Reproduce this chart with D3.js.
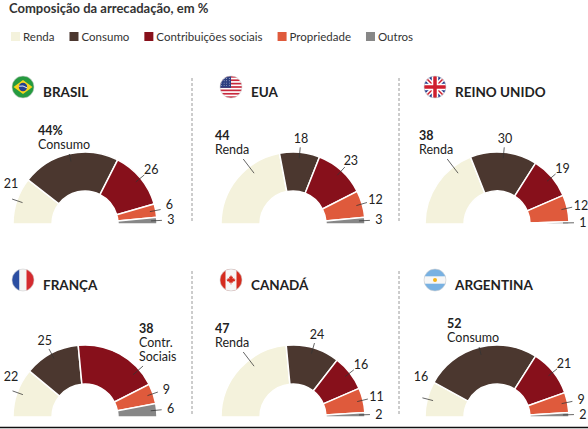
<!DOCTYPE html>
<html>
<head>
<meta charset="utf-8">
<script src="https://cdn.jsdelivr.net/npm/d3@7"></script>
<style>
body { margin: 0; background: #fff; }
text { font-family: "Liberation Sans Narrow", Lato, "Noto Sans", sans-serif; fill: #222; }
</style>
</head>
<body>
<svg width="588" height="429"></svg>
<script>
// data
var categories = ["Renda", "Consumo", "Contribuições sociais", "Propriedade", "Outros"];
var shortNames = [["Renda"], ["Consumo"], ["Contr.", "Sociais"], ["Propriedade"], ["Outros"]];
var countries = ["BRASIL", "EUA", "REINO UNIDO", "FRANÇA", "CANADÁ", "ARGENTINA"];
var flagCodes = ["br", "us", "uk", "fr", "ca", "ar"];

var brasil = [21, 44, 26, 6, 3];
var eua = [44, 18, 23, 12, 3];
var reinoUnido = [38, 30, 19, 12, 1];
var franca = [22, 25, 38, 9, 6];
var canada = [47, 24, 16, 11, 2];
var argentina = [16, 52, 21, 9, 2];
var values = [brasil, eua, reinoUnido, franca, canada, argentina];

// slice that gets the big label in each chart
var highlight = [1, 0, 0, 2, 0, 1];

var colors = ["#f4f2dc", "#4b372f", "#87101b", "#df5a3c", "#878787"];

var svg = d3.select("svg");

var outerR = 72, innerR = 33;
var colX = [85, 293, 497],
    rowY = [224, 417],
    separators = [192, 399];

var color = d3.scaleOrdinal().domain(categories).range(colors);

var pie = d3.pie()
    .sort(null)
    .startAngle(-Math.PI / 2)
    .endAngle(Math.PI / 2);

var arc = d3.arc()
    .innerRadius(innerR)
    .outerRadius(outerR);

function polar(a, r) {
    return [r * Math.sin(a), -r * Math.cos(a)];
}
var deg = Math.PI / 180;

// title
svg.append("text")
    .attr("x", 9)
    .attr("y", 13)
    .style("font-size", "13px")
    .style("font-weight", "bold")
    .style("fill", "#333")
    .text("Composição da arrecadação, em %");

// legend
var lx = 11;
categories.forEach(function (c) {
    svg.append("rect")
        .attr("x", lx)
        .attr("y", 32)
        .attr("width", 9)
        .attr("height", 9)
        .attr("fill", color(c));
    var t = svg.append("text")
        .attr("x", lx + 12)
        .attr("y", 41)
        .style("font-size", "11.5px")
        .style("fill", "#333")
        .text(c);
    lx += 12 + t.node().getComputedTextLength() + 15;
});

// separators
rowY.forEach(function (cy) {
    separators.forEach(function (sx) {
        svg.append("line")
            .attr("x1", sx).attr("x2", sx)
            .attr("y1", cy - 146).attr("y2", cy - 1)
            .attr("stroke", "#9a9a9a")
            .attr("stroke-width", 1)
            .attr("stroke-dasharray", "3,2");
    });
});

svg.append("line")
    .attr("x1", 0).attr("x2", 588)
    .attr("y1", 427.5).attr("y2", 427.5)
    .attr("stroke", "#111")
    .attr("stroke-width", 1.5);

// flags
var defs = svg.append("defs");
defs.append("clipPath").attr("id", "flagClip")
    .append("circle").attr("r", 11);

function drawFlag(g, code) {
    var f = g.append("g").attr("clip-path", "url(#flagClip)");
    if (code === "br") {
        f.append("rect").attr("x", -11).attr("y", -11).attr("width", 22).attr("height", 22).attr("fill", "#259a3f");
        f.append("polygon").attr("points", "-9.5,0 0,-7 9.5,0 0,7").attr("fill", "#f6d31c");
        f.append("circle").attr("r", 4.2).attr("fill", "#23408e");
        f.append("path").attr("d", "M-4.1,-0.8 Q0,-2 4.1,0.9").attr("stroke", "#fff").attr("stroke-width", 0.9).attr("fill", "none");
    } else if (code === "us") {
        f.append("rect").attr("x", -11).attr("y", -11).attr("width", 22).attr("height", 22).attr("fill", "#fff");
        d3.range(7).forEach(function (i) {
            f.append("rect").attr("x", -11).attr("y", -11 + i * 2 * 22 / 13)
                .attr("width", 22).attr("height", 22 / 13).attr("fill", "#c8283c");
        });
        f.append("rect").attr("x", -11).attr("y", -11).attr("width", 11).attr("height", 22 * 7 / 13).attr("fill", "#2e3f80");
        d3.range(4).forEach(function (i) {
            d3.range(4).forEach(function (j) {
                f.append("circle").attr("cx", -9.5 + j * 2.6).attr("cy", -8.5 + i * 2.3).attr("r", 0.45).attr("fill", "#fff");
            });
        });
    } else if (code === "uk") {
        f.append("rect").attr("x", -11).attr("y", -11).attr("width", 22).attr("height", 22).attr("fill", "#233a8c");
        f.append("path").attr("d", "M-11,-11L11,11M11,-11L-11,11").attr("stroke", "#fff").attr("stroke-width", 4.5);
        f.append("path").attr("d", "M-11,-11L11,11M11,-11L-11,11").attr("stroke", "#cf1f2e").attr("stroke-width", 1.5);
        f.append("path").attr("d", "M0,-11V11M-11,0H11").attr("stroke", "#fff").attr("stroke-width", 6.5);
        f.append("path").attr("d", "M0,-11V11M-11,0H11").attr("stroke", "#cf1f2e").attr("stroke-width", 3.5);
    } else if (code === "fr") {
        f.append("rect").attr("x", -11).attr("y", -11).attr("width", 7.5).attr("height", 22).attr("fill", "#2b4ea2");
        f.append("rect").attr("x", -3.5).attr("y", -11).attr("width", 7).attr("height", 22).attr("fill", "#f4f4f4");
        f.append("rect").attr("x", 3.5).attr("y", -11).attr("width", 7.5).attr("height", 22).attr("fill", "#d42a2f");
    } else if (code === "ca") {
        f.append("rect").attr("x", -11).attr("y", -11).attr("width", 22).attr("height", 22).attr("fill", "#d52b1e");
        f.append("rect").attr("x", -5.5).attr("y", -11).attr("width", 11).attr("height", 22).attr("fill", "#f6f6f6");
        f.append("path")
            .attr("d", "M0,-5L1,-3L2,-3.5L1.6,-1L3.5,-2.2L3,-0.8L4.5,-0.6L3.8,0.4L4.5,1L1.5,1.8L1.8,3L0.3,2.6L0.3,4.5L-0.3,4.5L-0.3,2.6L-1.8,3L-1.5,1.8L-4.5,1L-3.8,0.4L-4.5,-0.6L-3,-0.8L-3.5,-2.2L-1.6,-1L-2,-3.5L-1,-3Z")
            .attr("fill", "#d52b1e");
    } else if (code === "ar") {
        f.append("rect").attr("x", -11).attr("y", -11).attr("width", 22).attr("height", 22).attr("fill", "#78b1e2");
        f.append("rect").attr("x", -11).attr("y", -3.7).attr("width", 22).attr("height", 7.4).attr("fill", "#f7f7f7");
        f.append("circle").attr("r", 2).attr("fill", "#f3b41b");
    }
    g.append("circle").attr("r", 11).attr("fill", "none").attr("stroke", "#d0d0d0").attr("stroke-width", 0.6);
}

function leader(g, p, q) {
    g.append("line")
        .attr("x1", p[0]).attr("y1", p[1])
        .attr("x2", q[0]).attr("y2", q[1])
        .attr("stroke", "#333")
        .attr("stroke-width", 0.75);
}

// charts
countries.forEach(function (name, k) {
    var cx = colX[k % 3],
        cy = rowY[Math.floor(k / 3)];
    var data = values[k];

    var flag = svg.append("g").attr("transform", "translate(" + (cx - 62) + "," + (cy - 137) + ")");
    drawFlag(flag, flagCodes[k]);

    svg.append("text")
        .attr("x", cx - 42)
        .attr("y", cy - 127)
        .style("font-size", "13.5px")
        .style("font-weight", "bold")
        .text(name);

    var g = svg.append("g").attr("transform", "translate(" + cx + "," + cy + ")");
    var slices = pie(data);

    g.selectAll("path.slice")
        .data(slices)
        .enter()
        .append("path")
        .attr("class", "slice")
        .attr("d", arc)
        .attr("fill", function (d, i) { return color(categories[i]); })
        .attr("stroke", "#fff")
        .attr("stroke-width", 1.5);

    var small = [];
    slices.forEach(function (d, i) {
        var mid = (d.startAngle + d.endAngle) / 2;
        if (i === highlight[k]) {
            // big label: value plus category name, left aligned
            var a = Math.max(-40 * deg, Math.min(40 * deg, mid));
            var lines = [d.value + (k === 0 ? "%" : "")].concat(shortNames[i]);
            var t = g.append("text").style("font-size", "12.5px");
            lines.forEach(function (s, j) {
                t.append("tspan")
                    .attr("x", 0)
                    .attr("dy", j === 0 ? 0 : 14)
                    .style("font-weight", j === 0 ? "bold" : "normal")
                    .text(s);
            });
            var w = t.node().getBBox().width;
            var left = polar(a, outerR + 24)[0] - w / 2;
            left = Math.max(-78, Math.min(95 - w, left));
            var bottom = -84 + (lines.length - 1) * 14;
            var right = left + w;
            if (left < 0 && right > 0) {
                bottom = Math.min(bottom, -outerR - 3);
            } else {
                var need = Math.sqrt(Math.max(0, (outerR + 3) * (outerR + 3) - (bottom + 4) * (bottom + 4)));
                if (left >= 0 && left < need) left = need;
                if (right <= 0 && right > -need) left = -need - w;
                right = left + w;
            }
            var top = bottom - (lines.length - 1) * 14;
            t.attr("y", top);
            t.selectAll("tspan").attr("x", left);
            var ax;
            if (left < 0 && right > 0) {
                ax = Math.max(left + 6, Math.min(right - 6, polar(mid, outerR)[0]));
            } else if (left >= 0) {
                ax = left + 4;
            } else {
                ax = right - 6;
            }
            var A = [ax, bottom + 5];
            var ang = Math.atan2(A[0], -A[1]);
            leader(g, A, polar(ang, outerR - 8));
        } else {
            var la = mid;
            if (la < -62 * deg) la = -62 * deg;
            var pos = polar(la, outerR + 14);
            small.push({ v: d.value, mid: mid, x: pos[0], y: pos[1] });
        }
    });

    // keep right-hand labels from stacking on each other
    var rightSide = small.filter(function (s) { return s.x > 30; });
    for (var j = rightSide.length - 2; j >= 0; j--) {
        if (rightSide[j + 1].y - rightSide[j].y < 15) rightSide[j].y = rightSide[j + 1].y - 15;
    }

    small.forEach(function (s) {
        leader(g, polar(s.mid, outerR - 6), polar(s.mid, outerR + 5));
        var x = Math.max(-cx + 11, s.x);
        g.append("text")
            .attr("x", x)
            .attr("y", s.y)
            .attr("dy", "0.35em")
            .attr("text-anchor", "middle")
            .style("font-size", "12.5px")
            .text(s.v);
    });
});
</script>
</body>
</html>
